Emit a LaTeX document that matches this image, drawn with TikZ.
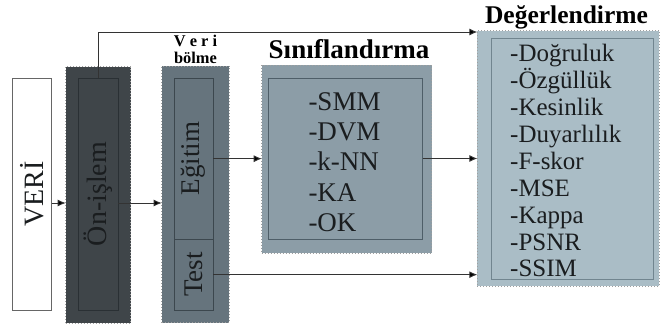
\documentclass[tikz,border=0pt]{standalone}
\usepackage{fontspec}
\setmainfont{Liberation Serif}
\usetikzlibrary{arrows.meta,calc}
\definecolor{cOnF}{HTML}{3F4549}
\definecolor{cOnB}{HTML}{2A3034}
\definecolor{cVbF}{HTML}{66747D}
\definecolor{cVbB}{HTML}{3C474E}
\definecolor{cSiF}{HTML}{8C9DA7}
\definecolor{cSiB}{HTML}{4E5E68}
\definecolor{cDeF}{HTML}{AABDC6}
\definecolor{cDeB}{HTML}{71858F}
\definecolor{cLine}{HTML}{333333}
\definecolor{cTxt}{HTML}{1A1D1F}
\tikzset{
  box/.style={draw, rectangle, inner sep=0pt, outer sep=0pt, line width=0.9pt},
  outerbox/.style={draw=gray!75, dotted, rectangle, inner sep=0pt, outer sep=0pt, line width=1pt},
  conn/.style={draw=cLine, line width=0.9pt},
  arr/.style={conn, -{Latex[length=8pt,width=7pt,fill=black]}},
  vtext/.style={rotate=90, font=\fontsize{28}{30}\selectfont, text=cTxt},
  title/.style={font=\bfseries\fontsize{27}{30}\selectfont, text=black, anchor=base, inner sep=0pt},
  item/.style={anchor=base west, inner sep=0pt, text=cTxt},
}
\begin{document}
\begin{tikzpicture}[x=1pt,y=-1pt]
\useasboundingbox (0,0) rectangle (660,327);
\fill[white] (0,0) rectangle (660,327);
% VERI
\node[box, draw=gray!80!black, fill=white, minimum width=39pt, minimum height=232pt] (veri) at (32.2,194) {};
\node[vtext] (veriT) at (veri.center) {VERİ};
% On-islem
\node[outerbox, fill=cOnF, minimum width=65pt, minimum height=256.6pt] (onout) at (98.2,195) {};
\node[box, draw=cOnB, fill=cOnF, minimum width=40pt, minimum height=232pt] (onin) at (98,194) {};
\node[vtext] (onT) at (onin.center) {Ön-işlem};
% Veri bolme
\node[outerbox, fill=cVbF, minimum width=67.6pt, minimum height=256.7pt] (vbout) at (195.5,194.35) {};
\node[box, draw=cVbB, fill=cVbF, minimum width=39.3pt, minimum height=161.3pt] (egitim) at (193.65,158.65) {};
\node[box, draw=cVbB, fill=cVbF, minimum width=39.3pt, minimum height=70.7pt] (test) at (193.65,274.65) {};
\node[vtext, font=\fontsize{27}{30}\selectfont] (egT) at (egitim.center) {Eğitim};
\node[vtext, font=\fontsize{27}{30}\selectfont] (teT) at (test.center) {Test};
\node[anchor=base, inner sep=0pt, font=\bfseries\fontsize{16.4}{18}\selectfont] (vb1) at (195.5,46) {V e r i};
\node[anchor=base, inner sep=0pt, font=\bfseries\fontsize{16.4}{18}\selectfont] (vb2) at (195.5,63.5) {bölme};
% Siniflandirma
\node[outerbox, fill=cSiF, minimum width=170pt, minimum height=188.3pt] (sinout) at (346.7,159.15) {};
\node[box, draw=cSiB, fill=cSiF, minimum width=154.4pt, minimum height=161pt] (sinin) at (345.5,158.5) {};
\node[title] (sinT) at (349,58) {Sınıflandırma};
\foreach \t/\yy [count=\i] in {-SMM/110,-DVM/140.4,-k-NN/170.8,-KA/201.2,-OK/231.6}
  \node[item, font=\fontsize{27}{30}\selectfont] (s\i) at (308.3,\yy) {\t};
% Degerlendirme
\node[outerbox, fill=cDeF, minimum width=182pt, minimum height=255.3pt] (degout) at (568.3,158.35) {};
\node[box, draw=cDeB, fill=cDeF, minimum width=161.6pt, minimum height=241pt] (degin) at (572.5,158.8) {};
\node[title, font=\bfseries\fontsize{25.5}{28}\selectfont] (degT) at (566.5,23.3) {Değerlendirme};
\foreach \t/\yy [count=\i] in {-Doğruluk/61.7,-Özgüllük/88.6,-Kesinlik/115.5,-Duyarlılık/142.4,-F-skor/169.3,-MSE/196.2,-Kappa/223.1,-PSNR/250,-SSIM/276.9}
  \node[item, font=\fontsize{25}{27}\selectfont] (d\i) at (510,\yy) {\t};
% connectors
\coordinate (ya) at (0,203);
\coordinate (yt) at (0,32);
\draw[arr] (veri.east |- ya) -- (onout.west |- ya);
\draw[arr] (onin.east |- ya) -- (vbout.west |- ya);
\draw[arr] (egitim.east) -- (sinout.west |- egitim.east);
\draw[arr] (sinin.east) -- (degout.west |- sinin.east);
\draw[arr] (test.east) -- (degout.west |- test.east);
\draw[arr] (onin.north) -- (onin.north |- yt) -- (degout.west |- yt);
\end{tikzpicture}
\end{document}
